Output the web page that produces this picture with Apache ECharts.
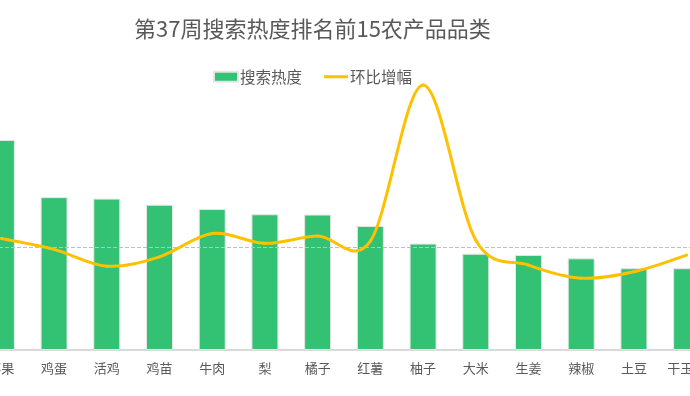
<!DOCTYPE html>
<html>
<head>
<meta charset="utf-8">
<script src="https://cdn.jsdelivr.net/npm/echarts@6/dist/echarts.min.js"></script>
<style>html,body{margin:0;padding:0;background:#fff;overflow:hidden;width:690px;height:396px;}#c{width:738px;height:396px;margin-left:-25px;}</style>
</head>
<body>
<div id="c"></div>
<script>
const categories = ['苹果','鸡蛋','活鸡','鸡苗','牛肉','梨','橘子','红薯','柚子','大米','生姜','辣椒','土豆','干玉米'];
const heatValues = [724, 527, 522, 501, 486, 468, 467, 428, 367, 332, 328, 316, 282, 282];
const growthValues = [4.6, -1.2, -10.2, -5.2, 7.3, 2.0, 5.9, 3.2, 86.6, 3.7, -9.6, -16.6, -13.2, -4.3];
const titleText = '第37周搜索热度排名前15农产品品类';
const seriesNames = ['搜索热度', '环比增幅'];

const font = '"Noto Sans CJK SC", "Noto Sans", sans-serif';
const chart = echarts.init(document.getElementById('c'));

function renderSmoothLine(params, api) {
  if (params.dataIndex !== 0) return null;
  const pts = growthValues.map((v, i) => api.coord([i, v]));
  const n = pts.length;
  const children = [];
  for (let i = 0; i < n - 1; i++) {
    const p0 = pts[Math.max(i - 1, 0)], p1 = pts[i], p2 = pts[i + 1], p3 = pts[Math.min(i + 2, n - 1)];
    children.push({
      type: 'bezierCurve',
      shape: {
        x1: p1[0], y1: p1[1], x2: p2[0], y2: p2[1],
        cpx1: p1[0] + (p2[0] - p0[0]) / 6, cpy1: p1[1] + (p2[1] - p0[1]) / 6,
        cpx2: p2[0] - (p3[0] - p1[0]) / 6, cpy2: p2[1] - (p3[1] - p1[1]) / 6
      },
      style: { stroke: '#FFC000', lineWidth: 3, fill: null, lineCap: 'round' }
    });
  }
  return { type: 'group', children: children };
}

chart.setOption({
  backgroundColor: '#ffffff',
  animation: false,
  title: {
    text: titleText, left: 154, top: 13,
    textStyle: { fontSize: 22, fontWeight: 'normal', color: '#595959', fontFamily: font }
  },
  legend: {
    left: 233, top: 64, itemWidth: 24, itemHeight: 10, itemGap: 22,
    textStyle: { fontSize: 15.5, color: '#595959', fontFamily: font, padding: [0, 0, 0, -3] },
    data: [
      { name: seriesNames[0], icon: 'rect' },
      { name: seriesNames[1], icon: 'path://M0 0 H24 V3 H0 Z' }
    ]
  },
  grid: { left: 0, right: 0, top: 60, bottom: 46, containLabel: false },
  xAxis: {
    type: 'category', data: categories,
    axisLine: { lineStyle: { color: '#d9d9d9', width: 2 } },
    axisTick: { show: false },
    axisLabel: { fontSize: 13, color: '#595959', margin: 12, fontFamily: font, interval: 0 }
  },
  yAxis: [
    { type: 'value', min: 0, max: 1000, show: false, splitLine: { show: false } },
    { type: 'value', min: -55, max: 100, show: false, splitLine: { show: false } }
  ],
  series: [
    {
      name: seriesNames[0], type: 'bar', data: heatValues, barWidth: 27,
      itemStyle: { color: '#33C173', borderColor: '#e6e6e6', borderWidth: 1 }
    },
    {
      name: seriesNames[1], type: 'custom', yAxisIndex: 1,
      data: growthValues.map((v, i) => [i, v]),
      encode: { x: 0, y: 1 },
      renderItem: renderSmoothLine,
      itemStyle: { color: '#FFC000' },
      z: 3,
      markLine: {
        silent: true, symbol: 'none', label: { show: false },
        lineStyle: { color: '#bfbfbf', type: 'dashed', width: 1 },
        data: [{ yAxis: 0 }]
      }
    }
  ]
});
</script>
</body>
</html>
